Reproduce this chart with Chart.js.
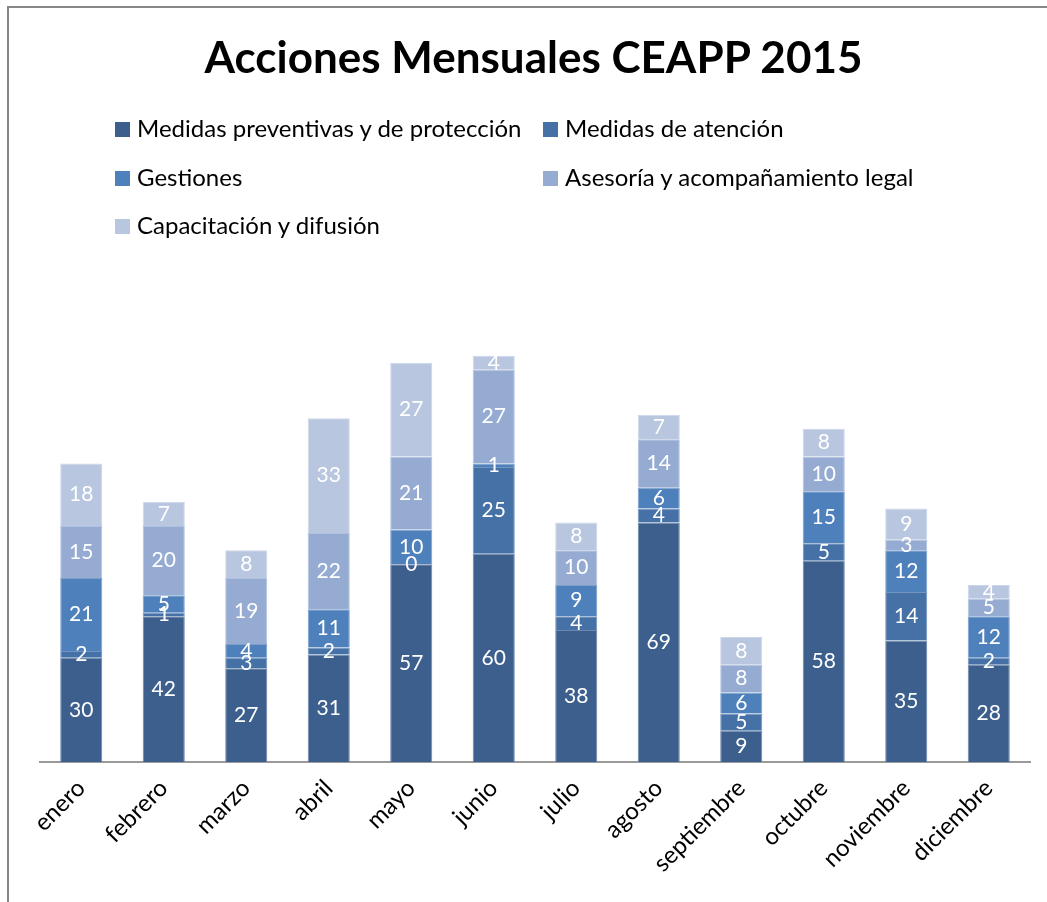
<!DOCTYPE html>
<html>
<head>
<meta charset="utf-8">
<script src="https://cdn.jsdelivr.net/npm/chart.js@4/dist/chart.umd.min.js"></script>
<style>
  body { margin:0; background:#fff; }
  #wrap { position:relative; width:1047px; height:902px; overflow:hidden; font-family:Lato, "Open Sans", sans-serif; }
  #frame { position:absolute; left:7px; top:6px; right:-10px; bottom:-10px; border-top:2px solid #878787; border-left:2px solid #878787; }
  #title { position:absolute; left:0; width:1067px; top:30px; text-align:center; font-weight:bold; font-size:44px; color:#000; }
  .leg { position:absolute; font-size:24px; color:#000; white-space:nowrap; line-height:26px; }
  .leg i { display:inline-block; width:15px; height:15px; margin-right:7px; vertical-align:0px; }
  canvas { position:absolute; left:0; top:0; }
</style>
</head>
<body>
<div id="wrap">
  <div id="frame"></div>
  <canvas id="c" width="1047" height="902"></canvas>
  <div id="title">Acciones Mensuales CEAPP 2015</div>
  <div id="legend"></div>
</div>
<script>
// months
var meses = ['enero','febrero','marzo','abril','mayo','junio','julio','agosto','septiembre','octubre','noviembre','diciembre'];
// series
var serieNombres = ['Medidas preventivas y de protección','Medidas de atención','Gestiones','Asesoría y acompañamiento legal','Capacitación y difusión'];
var preventivas = [30,42,27,31,57,60,38,69,9,58,35,28];
var atencion    = [2,1,3,2,0,25,4,4,5,5,14,2];
var gestiones   = [21,5,4,11,10,1,9,6,6,15,12,12];
var asesoria    = [15,20,19,22,21,27,10,14,8,10,3,5];
var capacitacion= [18,7,8,33,27,4,8,7,8,8,9,4];
var colores = ['#3c5f8d','#4571a6','#4e80bc','#95abd2','#b9c6e0'];
var bordes  = ['#6d88ac','#7395c0','#7ca0cc','#b0c2e0','#ccd6ea'];

var series = [preventivas, atencion, gestiones, asesoria, capacitacion];

// legend in two columns like the original
var legPos = [[115,115],[543,115],[115,164],[543,164],[115,212]];
var legEl = document.getElementById('legend');
serieNombres.forEach(function(n,i){
    var d = document.createElement('div');
    d.className = 'leg';
    d.style.left = legPos[i][0]+'px';
    d.style.top = legPos[i][1]+'px';
    d.innerHTML = '<i style="background:'+colores[i]+'"></i>'+n;
    legEl.appendChild(d);
});

// white values centred on each segment
var valueLabels = {
    id : 'valueLabels',
    afterDatasetsDraw : function(chart) {
        var ctx = chart.ctx;
        ctx.save();
        ctx.fillStyle = '#fff';
        ctx.font = '21px Lato, "Open Sans", sans-serif';
        ctx.textAlign = 'center';
        ctx.textBaseline = 'middle';
        chart.data.datasets.forEach(function(ds,i){
            var meta = chart.getDatasetMeta(i);
            meta.data.forEach(function(el,j){
                ctx.fillText(ds.data[j], el.x, (el.y+el.base)/2);
            });
        });
        ctx.restore();
    }
};

new Chart(document.getElementById('c'), {
    type : 'bar',
    data : {
        labels : meses,
        datasets : series.map(function(s,i){
            return {
                label : serieNombres[i],
                data : s,
                backgroundColor : colores[i],
                borderColor : bordes[i],
                borderWidth : 1,
                categoryPercentage : 1,
                barPercentage : 0.51
            };
        })
    },
    options : {
        responsive : false,
        animation : false,
        layout : { padding : { top:276, left:40, right:17, bottom:0 } },
        plugins : { legend : { display:false }, title : { display:false }, tooltip : { enabled:false } },
        scales : {
            x : {
                stacked : true,
                grid : { display:false, drawTicks:false },
                border : { display:true, color:'#9a9a9a', width:2 },
                ticks : {
                    color : '#000',
                    font : { family:'Lato, "Open Sans", sans-serif', size:24 },
                    minRotation : 45, maxRotation : 45,
                    autoSkip : false,
                    padding : 12
                },
                afterFit : function(s){ s.height = 140; }
            },
            y : {
                stacked : true,
                display : false,
                min : 0, max : 140
            }
        }
    },
    plugins : [valueLabels]
});
</script>
</body>
</html>
